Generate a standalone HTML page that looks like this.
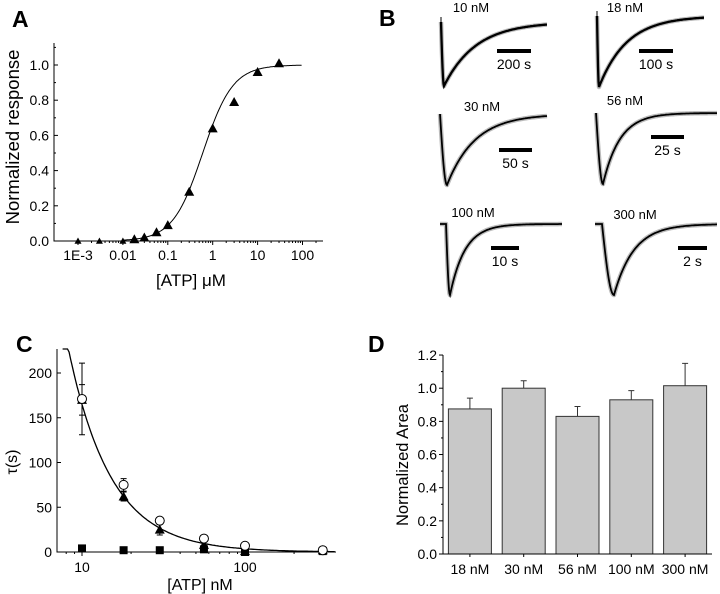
<!DOCTYPE html>
<html><head><meta charset="utf-8"><style>
html,body{margin:0;padding:0;background:#fff;}
svg{display:block;font-family:"Liberation Sans",Arial,sans-serif;}
</style></head><body>
<svg id="fig" width="720" height="594" viewBox="0 0 720 594" xmlns="http://www.w3.org/2000/svg">
<g id="pA"></g>
<g id="pB"></g>
<g id="pC"></g>
<g id="pD"></g>
</svg>
<script>
// Panel A data
const aConc = [0.001,0.003,0.01,0.018,0.03,0.056,0.1,0.3,1,3,10,30];
const aResp = [0.0,0.0,0.0,0.01,0.02,0.05,0.09,0.28,0.64,0.79,0.96,1.01];
const aEC50 = 0.6, aHill = 1.3;
const aYTicks = [0,0.2,0.4,0.6,0.8,1.0];
const aXTicks = [0.001,0.01,0.1,1,10,100];
const aXTickLabels = ["1E-3","0.01","0.1","1","10","100"];
// Panel C data
const cConc = [10,18,30,56,100,300];
const cOpen = [171,75,35,15,7,2];
const cOpenErr = [40,7,3,3,0,0];
const cTri = [170,62,25,8,1,2];
const cTriErr = [17,5,6,4,0,0];
const cSq = [4,2,2,3,0,1];
const cFitA = 165, cFitK = 1.66;
const cYTicks = [0,50,100,150,200];
const cXTicks = [10,100];
// Panel D data
const dCats = ["18 nM","30 nM","56 nM","100 nM","300 nM"];
const dVals = [0.875,1.0,0.83,0.93,1.015];
const dErr = [0.065,0.045,0.06,0.055,0.135];
const dYTicks = [0,0.2,0.4,0.6,0.8,1.0,1.2];

const NS="http://www.w3.org/2000/svg";
function mk(parent,tag,attrs,text){const e=document.createElementNS(NS,tag);for(const k in attrs)e.setAttribute(k,attrs[k]);if(text!==undefined)e.textContent=text;parent.appendChild(e);return e;}
const fmt1=v=>v.toFixed(1);

// ---------- Panel A ----------
(function(){
const g=document.getElementById('pA');
const X0=54,X1=323,Y0=241;
const xs=v=>78+(Math.log10(v)+3)*44.9;
const ys=v=>Y0-v*176;
let t=mk(g,'text',{x:12,y:27,'font-size':23,'font-weight':'bold'},'A');


let ax=mk(g,'path',{d:`M${X0},43V${Y0}H${X1}`,stroke:'#000',fill:'none','stroke-width':1});


aYTicks.forEach(v=>{mk(g,'line',{x1:X0,x2:X0+4,y1:ys(v),y2:ys(v),stroke:'#000'});
 let l=mk(g,'text',{x:X0-5,y:ys(v)+5,'font-size':14,'text-anchor':'end'},fmt1(v));
 
 
 mk(g,'line',{x1:X0,x2:X0+2,y1:ys(v+0.1),y2:ys(v+0.1),stroke:'#000'});});
aXTicks.forEach((v,i)=>{mk(g,'line',{x1:xs(v),x2:xs(v),y1:Y0,y2:Y0+4,stroke:'#000'});
 for(let m=2;m<10;m++){const xx=xs(v*m);if(xx<X1)mk(g,'line',{x1:xx,x2:xx,y1:Y0,y2:Y0+2,stroke:'#000'});}
 let l=mk(g,'text',{x:xs(v),y:Y0+19,'font-size':14,'text-anchor':'middle'},aXTickLabels[i]);
 
 });
let xl=mk(g,'text',{x:191,y:286,'font-size':17,'text-anchor':'middle'},'[ATP] μM');


let yl=mk(g,'text',{x:0,y:0,'font-size':18.5,'text-anchor':'middle',transform:'translate(19,137) rotate(-90)'},'Normalized response');


let d='';for(let lg=-2;lg<=2;lg+=0.02){const c=Math.pow(10,lg);const r=1/(1+Math.pow(aEC50/c,aHill));d+=(d?'L':'M')+xs(c).toFixed(1)+','+ys(r).toFixed(1);}
let fit=mk(g,'path',{d,stroke:'#000',fill:'none','stroke-width':1});


aConc.forEach((c,i)=>{const s=c<0.015?3.5:5;const x=xs(c),y=ys(aResp[i]);
 let p=mk(g,'path',{d:`M${x},${y-s}L${x+s},${y+s*0.8}L${x-s},${y+s*0.8}Z`,fill:'#000'});
 
 });
})();

// ---------- Panel B ----------
(function(){
const g=document.getElementById('pB');
let t=mk(g,'text',{x:379,y:26,'font-size':23,'font-weight':'bold'},'B');


const traces=[
 {n:'10 nM',x0:441,y0:22,xb:444,yb:86,xe:547,tau:32,lx:471,ly:12,bx1:497,bx2:531,by:51,bl:'200 s',spike:1},
 {n:'18 nM',x0:597,y0:16,xb:599,yb:87,xe:704,tau:28,lx:625,ly:12,bx1:639,bx2:673,by:51,bl:'100 s',spike:1},
 {n:'30 nM',x0:440,y0:114,xb:447,yb:185,xe:547,tau:28,lx:482,ly:111,bx1:499,bx2:532,by:150,bl:'50 s'},
 {n:'56 nM',x0:596,y0:113,xb:603,yb:184,xe:717,tau:17,lx:625,ly:105,bx1:651,bx2:684,by:137,bl:'25 s'},
 {n:'100 nM',x0:440,y0:224,xb:450,yb:295,xe:562,tau:15,lx:473,ly:217,bx1:491,bx2:519,by:248,bl:'10 s',x1:446},
 {n:'300 nM',x0:595,y0:224,xb:614,yb:295,xe:717,tau:20,lx:635,ly:219,bx1:678,bx2:707,by:248,bl:'2 s',x1:602}
];
traces.forEach(tr=>{
 const x1=tr.x1||tr.x0; let d=`M${tr.x0},${tr.y0}L${x1},${tr.y0}`;
 const depth=tr.yb-tr.y0;
 for(let x=x1;x<=tr.xb;x+=0.5){const f=(x-x1)/Math.max(tr.xb-x1,1);const y=tr.y0+depth*Math.sin(f*Math.PI/2);d+=`L${x.toFixed(1)},${y.toFixed(1)}`;}
 for(let x=tr.xb;x<=tr.xe;x+=1){const u=(x-tr.xb);const y=tr.y0+depth*Math.exp(-u/tr.tau);d+=`L${x},${y.toFixed(1)}`;}
 let sh=mk(g,'path',{d,stroke:'#bbb',fill:'none','stroke-width':4.5,'stroke-linejoin':'round'});
 
 
 let ln=mk(g,'path',{d,stroke:'#000',fill:'none','stroke-width':tr.spike?2.3:1.8});
 
 
 if(tr.spike){mk(g,'line',{x1:tr.x0,x2:tr.x0,y1:tr.y0-5,y2:tr.y0+10,stroke:'#000','stroke-width':1});}
 let lb=mk(g,'text',{x:tr.lx,y:tr.ly,'font-size':13,'text-anchor':'middle'},tr.n);
 
 
 let sb=mk(g,'line',{x1:tr.bx1,x2:tr.bx2,y1:tr.by,y2:tr.by,stroke:'#000','stroke-width':4});
 
 
 let st=mk(g,'text',{x:(tr.bx1+tr.bx2)/2,y:tr.by+18,'font-size':14,'text-anchor':'middle'},tr.bl);
 
 
});
})();

// ---------- Panel C ----------
(function(){
const g=document.getElementById('pC');
const X0=57,X1=336,Y0=552;
const xs=v=>82+(Math.log10(v)-1)*163;
const ys=v=>Y0-v*0.895;
let t=mk(g,'text',{x:16,y:352,'font-size':23,'font-weight':'bold'},'C');


let ax=mk(g,'path',{d:`M${X0},349V${Y0}H${X1}`,stroke:'#000',fill:'none'});


cYTicks.forEach(v=>{mk(g,'line',{x1:X0,x2:X0+4,y1:ys(v),y2:ys(v),stroke:'#000'});
 let l=mk(g,'text',{x:X0-5,y:ys(v)+5,'font-size':14,'text-anchor':'end'},String(v));
 
 });
[8,9,20,30,40,50,60,70,80,90,200,300].forEach(v=>mk(g,'line',{x1:xs(v),x2:xs(v),y1:Y0,y2:Y0+2,stroke:'#000'}));
cXTicks.forEach(v=>{mk(g,'line',{x1:xs(v),x2:xs(v),y1:Y0,y2:Y0+4,stroke:'#000'});
 let l=mk(g,'text',{x:xs(v),y:Y0+20,'font-size':14,'text-anchor':'middle'},String(v));
 
 });
let xl=mk(g,'text',{x:200,y:590,'font-size':16,'text-anchor':'middle'},'[ATP] nM');


let yl=mk(g,'text',{x:0,y:0,'font-size':16,'text-anchor':'middle',transform:'translate(17,462) rotate(-90)'},'τ(s)');


let d='';for(let lg=Math.log10(7.6);lg<=Math.log10(360);lg+=0.01){const c=Math.pow(10,lg);const v=cFitA*Math.pow(c/10,-cFitK);const y=Math.max(ys(v),349);d+=(d?'L':'M')+xs(c).toFixed(1)+','+y.toFixed(1);}
let fit=mk(g,'path',{d,stroke:'#000',fill:'none','stroke-width':1.3});


function eb(x,v,e){if(!e)return;const a=ys(v+e),b=ys(v-e);mk(g,'path',{d:`M${x},${a}V${b}M${x-3},${a}H${x+3}M${x-3},${b}H${x+3}`,stroke:'#000',fill:'none'});}
cConc.forEach((c,i)=>{const x=xs(c);
 eb(x,cOpen[i],cOpenErr[i]);eb(x,cTri[i],cTriErr[i]);
 let sq=mk(g,'rect',{x:x-4,y:ys(cSq[i])-4,width:8,height:8,fill:'#000'});
 
 
 const y=ys(cTri[i]);
 let tr=mk(g,'path',{d:`M${x},${y-5}L${x+5},${y+4}L${x-5},${y+4}Z`,fill:'#000'});
 
 
 let ci=mk(g,'circle',{cx:x,cy:ys(cOpen[i]),r:4.5,fill:'#fff',stroke:'#000','stroke-width':1});
 
 
});
})();

// ---------- Panel D ----------
(function(){
const g=document.getElementById('pD');
const X0=443,X1=712,Y0=554;
const ys=v=>Y0-v*165.8;
const cw=(X1-X0)/dCats.length;
let t=mk(g,'text',{x:368,y:352,'font-size':23,'font-weight':'bold'},'D');


dYTicks.forEach(v=>{mk(g,'line',{x1:X0,x2:X0-4,y1:ys(v),y2:ys(v),stroke:'#000'});
 if(v<1.15)mk(g,'line',{x1:X0,x2:X0-2,y1:ys(v+0.1),y2:ys(v+0.1),stroke:'#000'});
 let l=mk(g,'text',{x:X0-6,y:ys(v)+5,'font-size':14,'text-anchor':'end'},fmt1(v));
 
 });
dCats.forEach((c,i)=>{const cx=X0+cw*(i+0.5);const bx=cx-21.5;
 mk(g,'line',{x1:cx,x2:cx,y1:Y0,y2:Y0+3,stroke:'#000'});
 const top=ys(dVals[i]+dErr[i]);
 mk(g,'path',{d:`M${cx},${ys(dVals[i])}V${top}M${cx-3},${top}H${cx+3}`,stroke:'#333',fill:'none'});
 let b=mk(g,'rect',{x:bx,y:ys(dVals[i]),width:43,height:Y0-ys(dVals[i]),fill:'#c8c8c8',stroke:'#333','stroke-width':1});
 
 
 let l=mk(g,'text',{x:cx,y:Y0+20,'font-size':14,'text-anchor':'middle'},c);
 
 
});
let ax=mk(g,'path',{d:`M${X0},355V${Y0}H${X1}`,stroke:'#000',fill:'none'});


let yl=mk(g,'text',{x:0,y:0,'font-size':16.5,'text-anchor':'middle',transform:'translate(408,465) rotate(-90)'},'Normalized Area');


})();
</script>
</body></html>
